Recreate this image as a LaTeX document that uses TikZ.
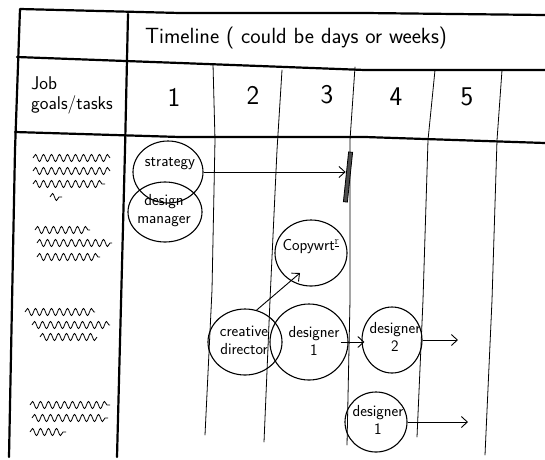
\documentclass[tikz,border=0pt]{standalone}
\usepackage{fontspec}
\usetikzlibrary{shapes.geometric,arrows.meta,decorations.pathmorphing}
\begin{document}
\begin{tikzpicture}[x=1pt,y=-1pt,
  frame/.style={line width=2.2pt, line cap=round, line join=round},
  colline/.style={line width=0.8pt, line cap=round, line join=round},
  bubble/.style={ellipse, draw, line width=1.1pt, inner sep=0pt},
  btxt/.style={align=center, inner sep=0pt, font=\sffamily\fontsize{16}{18}\selectfont},
  flow/.style={line width=0.9pt, -{Straight Barb[length=6pt,width=11pt]}},
  scrib/.style={line width=0.8pt, decorate, decoration={snake, amplitude=3.6pt, segment length=8pt}},
  lbl/.style={inner sep=0pt, font=\sffamily\fontsize{22}{22}\selectfont},
  num/.style={inner sep=0pt, font=\sffamily\fontsize{27}{27}\selectfont}]
\useasboundingbox (0,0) rectangle (545,459);

% frame
\draw[frame] (545,15) -- (365,13) -- (180,13) -- (20,9) -- (15,150) -- (9,457);
\draw[frame] (128,14) -- (125,150) -- (117,457);
\draw[frame] (17,57) -- (180,63) -- (365,70) -- (545,70);
\draw[frame] (15,132) -- (180,137) -- (365,137) -- (545,143);

% column lines
\draw[colline] (213,64) -- (215,140) -- (212,290) -- (205,435);
\draw[colline] (282,70) -- (277,150) -- (270,300) -- (264,442);
\draw[colline] (355,67) -- (350,140) -- (350,300) -- (347,445);
\draw[colline] (435,70) -- (428,140) -- (423,300) -- (417,437);
\draw[colline] (502,70) -- (497,140) -- (492,300) -- (485,455);

% header texts
\node[lbl] (title) at (296,38) {Timeline ( could be days or weeks)};
\node[lbl, font=\sffamily\fontsize{18.5}{20}\selectfont, align=left, anchor=west] (jobs) at (31,95) {Job\\goals/tasks};
\node[num] (n1) at (174,97) {1};
\node[num] (n2) at (253,95) {2};
\node[num] (n3) at (327,95) {3};
\node[num] (n4) at (396,97) {4};
\node[num] (n5) at (467,97) {5};

% scribbles (task placeholders)
\draw[scrib] (33,158) -- (110,158);
\draw[scrib] (33,171) -- (110,171);
\draw[scrib] (33,184) -- (105,184);
\draw[scrib] (50,197) -- (62,197);
\draw[scrib] (35,230) -- (90,230);
\draw[scrib] (37,243) -- (112,243);
\draw[scrib] (37,257) -- (100,257);
\draw[scrib] (25,312) -- (95,312);
\draw[scrib] (32,325) -- (110,325);
\draw[scrib] (40,337) -- (97,337);
\draw[scrib] (30,405) -- (110,405);
\draw[scrib] (32,418) -- (108,418);
\draw[scrib] (30,432) -- (66,432);

% bubbles
\node[bubble, minimum width=70pt, minimum height=62pt] (strat) at (168,172) {};
\node[btxt] (strattxt) at (170,164) {strategy};
\node[bubble, minimum width=74pt, minimum height=60pt] (dm) at (165,212) {};
\node[btxt] (dmtxt) at (164,211) {design\\manager};
\node[bubble, minimum width=72pt, minimum height=66pt] (copy) at (311,253) {};
\node[btxt] (copytxt) at (311,247) {Copywrt$^{\underline{\mathrm{r}}}$};
\node[bubble, minimum width=74pt, minimum height=66pt] (cd) at (245,342) {};
\node[btxt] (cdtxt) at (244,340) {creative\\director};
\node[bubble, minimum width=78pt, minimum height=76pt] (d1) at (309,342) {};
\node[btxt] (d1txt) at (314,341) {designer\\1};
\node[bubble, minimum width=60pt, minimum height=66pt] (d2) at (392,340) {};
\node[btxt] (d2txt) at (395,337) {designer\\2};
\node[bubble, minimum width=62pt, minimum height=60pt] (d1b) at (376,422) {};
\node[btxt] (d1btxt) at (378,420) {designer\\1};

% bar (deadline)
\node[draw, fill=black!70, line width=0.8pt, minimum width=4pt, minimum height=50pt, inner sep=0pt, rotate=-6] (bar) at (348,177) {};

% connectors
\coordinate (cwtip) at (300,273);
\coordinate (d2end) at (458,340);
\coordinate (d1bend) at (468,420);
\draw[flow] (strat.east) -- (bar.west |- strat.east);
\draw[flow] (cd.70) -- (cwtip);
\draw[flow] ([xshift=-8pt]d1.east) -- ([xshift=3pt]d2.west |- d1.east);
\draw[flow] (d2.east) -- (d2end);
\draw[flow] (d1b.east) -- (d1bend |- d1b.east);
\end{tikzpicture}
\end{document}
